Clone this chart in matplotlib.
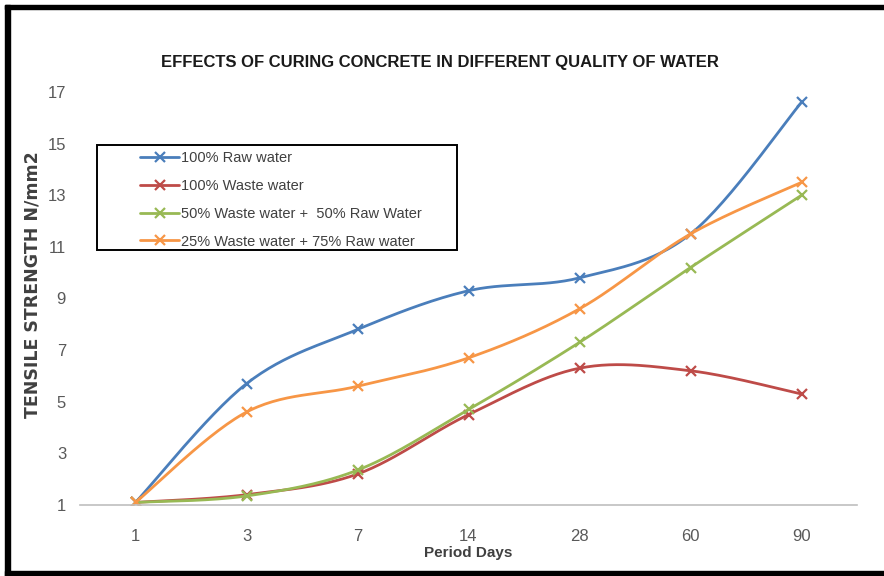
import numpy as np
import matplotlib
matplotlib.use("Agg")
import matplotlib.pyplot as plt
from matplotlib.patches import Rectangle

days = ["1", "3", "7", "14", "28", "60", "90"]
raw_100 = [1.1, 5.7, 7.8, 9.3, 9.8, 11.5, 16.6]
waste_100 = [1.1, 1.4, 2.2, 4.5, 6.3, 6.2, 5.3]
waste50_raw50 = [1.1, 1.35, 2.35, 4.7, 7.3, 10.2, 13.0]
waste25_raw75 = [1.1, 4.6, 5.6, 6.7, 8.6, 11.5, 13.5]

labels = ["100% Raw water", "100% Waste water",
          "50% Waste water +  50% Raw Water", "25% Waste water + 75% Raw water"]
colors = ["#4A7EBB", "#BE4B48", "#98B954", "#F79646"]

FONT = "Liberation Sans"
STEPS = 30


def smooth(y):
    # Catmull-Rom style bezier through each point, like a spreadsheet "smoothed line"
    p = np.column_stack([np.arange(len(y)), y]).astype(float)
    ext = np.vstack([p[0], p, p[-1]])
    t = np.linspace(0, 1, STEPS, endpoint=False)[:, None]
    out = []
    for i in range(len(p) - 1):
        p0, p1, p2, p3 = ext[i], ext[i + 1], ext[i + 2], ext[i + 3]
        b1 = p1 + (p2 - p0) / 6
        b2 = p2 - (p3 - p1) / 6
        seg = ((1 - t) ** 3) * p1 + 3 * ((1 - t) ** 2) * t * b1 + 3 * (1 - t) * t ** 2 * b2 + t ** 3 * p2
        out.append(seg)
    out.append(p[-1][None, :])
    out = np.vstack(out)
    return out[:, 0], out[:, 1]


W, H = 884, 576
fig = plt.figure(figsize=(W / 100, H / 100), dpi=100)
ax = fig.add_axes([80 / W, 1 - 505 / H, (857 - 80) / W, (505 - 92) / H])

handles = []
for vals, lab, col in zip([raw_100, waste_100, waste50_raw50, waste25_raw75], labels, colors):
    xs, ys = smooth(vals)
    ln, = ax.plot(xs, ys, color=col, lw=2.0, marker="x", markevery=STEPS,
                  markersize=7, markeredgewidth=1.6, label=lab, solid_capstyle="round")
    handles.append(ln)

ax.set_xlim(-0.5, len(days) - 0.5)
ax.set_ylim(1, 17)
ax.set_xticks(range(len(days)))
ax.set_xticklabels(days)
ax.set_yticks(range(1, 18, 2))
for s in ["top", "right", "left"]:
    ax.spines[s].set_visible(False)
ax.spines["bottom"].set_color("#BFBFBF")
ax.spines["bottom"].set_linewidth(1.2)
ax.tick_params(length=0, labelsize=12, labelcolor="#595959")
for t in ax.get_xticklabels() + ax.get_yticklabels():
    t.set_family(FONT)
ax.tick_params(axis="x", pad=17)
ax.tick_params(axis="y", pad=10)

ax.set_xlabel("Period Days", family=FONT, fontsize=11, fontweight="bold",
              color="#404040", labelpad=2)

fig.text(33 / W, 1 - 285 / H, "TENSILE STRENGTH N/mm2", rotation=90,
         ha="center", va="center", fontsize=12.5, fontweight="bold", color="#404040")

fig.text(440 / W, 1 - 63 / H, "EFFECTS OF CURING CONCRETE IN DIFFERENT QUALITY OF WATER",
         ha="center", va="center", family=FONT, fontsize=12, fontweight="bold",
         color="#1a1a1a")

# legend frame drawn on its own, legend entries placed inside it
fig.patches.append(Rectangle((97 / W, 1 - 250 / H), 360 / W, 105 / H,
                             transform=fig.transFigure, fill=False,
                             edgecolor="black", lw=1.4, zorder=5))
fig.legend(handles=handles, loc="upper left", bbox_to_anchor=(140 / W, 1 - 151 / H),
           frameon=False, prop={"family": FONT, "size": 10.5},
           handlelength=2.7, handletextpad=0.1, labelspacing=0.95,
           borderpad=0, borderaxespad=0, numpoints=1, labelcolor="#404040")

# black frame on left, top and bottom edges of the image
fig.patches.append(Rectangle((5 / W, 1 - 9 / H), 1 - 5 / W, 4 / H,
                             transform=fig.transFigure, color="black", zorder=10))
fig.patches.append(Rectangle((5 / W, 0), 5 / W, 1 - 5 / H,
                             transform=fig.transFigure, color="black", zorder=10))
fig.patches.append(Rectangle((5 / W, 0), 1 - 5 / W, 5 / H,
                             transform=fig.transFigure, color="black", zorder=10))

fig.savefig("out.png", dpi=100)
